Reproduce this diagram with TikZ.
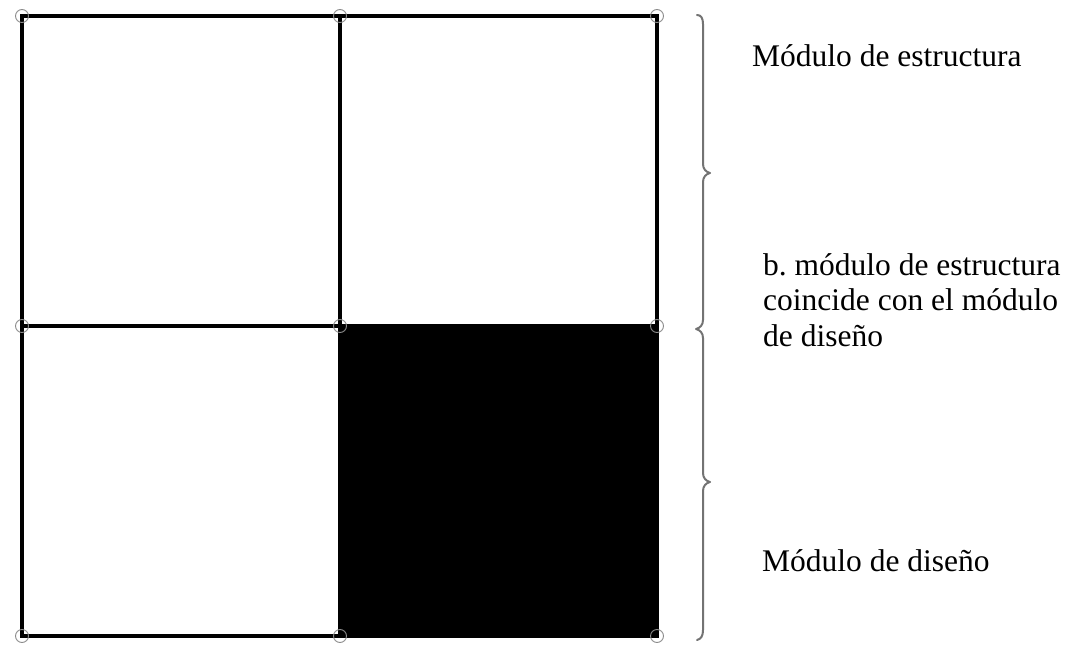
\documentclass[tikz,border=0pt]{standalone}
\usepackage{fontspec}
\setmainfont{Liberation Serif}
\tikzset{
  gridline/.style={line width=3.6pt, draw=black},
  joint/.style={draw=black!45, line width=0.9pt},
  bracket/.style={draw=black!55, line width=2pt, line cap=round, line join=round},
  caption/.style={anchor=base west, inner sep=0pt, font=\fontsize{31.5}{35.5}\selectfont, align=left}
}
\begin{document}
\begin{tikzpicture}[x=1pt, y=-1pt]
  \useasboundingbox (0,0) rectangle (1071,650);
  % grid points
  \coordinate (a1) at (22,16);  \coordinate (a2) at (340,16);  \coordinate (a3) at (657,16);
  \coordinate (b1) at (22,326); \coordinate (b2) at (340,326); \coordinate (b3) at (657,326);
  \coordinate (c1) at (22,636); \coordinate (c2) at (340,636); \coordinate (c3) at (657,636);
  % filled module
  \fill[black] (b2) rectangle (c3);
  % grid lines
  \draw[gridline] (a1) rectangle (c3);
  \draw[gridline] (a2) -- (c2);
  \draw[gridline] (b1) -- (b3);
  % joints
  \foreach \p in {a1,a2,a3,b1,b2,b3,c1,c2,c3}
    \draw[joint] (\p) circle (6.5);
  % bracket
  \draw[bracket] (697,15) .. controls (701,15) and (703,18) .. (703,24)
    -- (703,164) .. controls (703,169) and (706,172) .. (710,173)
    .. controls (706,174) and (703,177) .. (703,182)
    -- (703,320) .. controls (703,325) and (700,328) .. (696,329)
    .. controls (700,330) and (703,333) .. (703,338)
    -- (703,473) .. controls (703,478) and (706,481) .. (710,482)
    .. controls (706,483) and (703,486) .. (703,491)
    -- (703,630) .. controls (703,636) and (701,639) .. (697,640);
  % captions
  \node[caption] (t1) at (752,67) {Módulo de estructura};
  \node[caption] (t2) at (763,346) {b.\ módulo de estructura\\coincide con el módulo\\de diseño};
  \node[caption] (t3) at (762,571) {Módulo de diseño};
\end{tikzpicture}
\end{document}
